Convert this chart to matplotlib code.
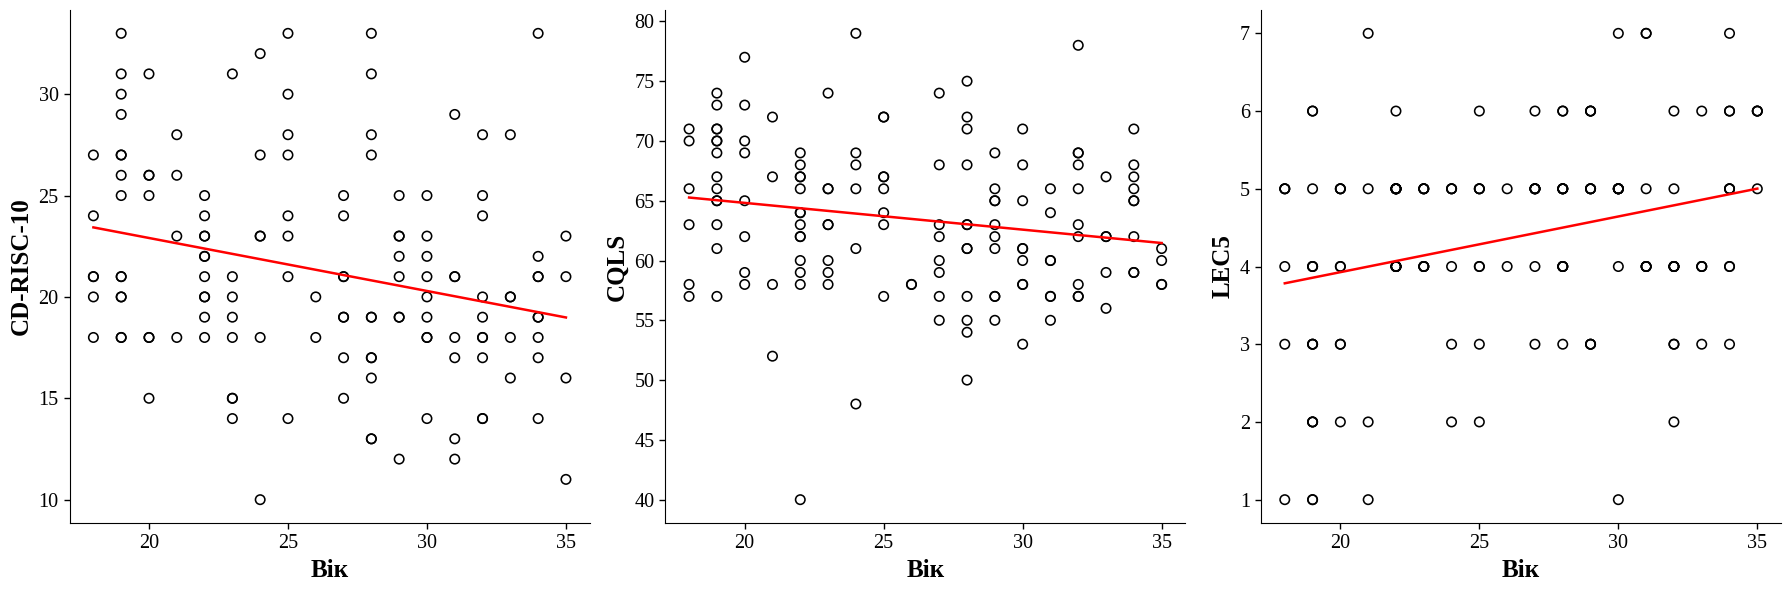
import numpy as np
import matplotlib
matplotlib.use("Agg")
import matplotlib.pyplot as plt

plt.rcParams['font.family'] = ['Liberation Serif', 'DejaVu Serif']

# CD-RISC-10 vs age
age_cd = [18, 18, 18, 18, 18, 18,
          19, 19, 19, 19, 19, 19, 19, 19, 19, 19, 19, 19, 19, 19,
          20, 20, 20, 20, 20, 20, 20,
          21, 21, 21, 21,
          22, 22, 22, 22, 22, 22, 22, 22, 22, 22, 22,
          23, 23, 23, 23, 23, 23, 23, 23,
          24, 24, 24, 24, 24, 24,
          25, 25, 25, 25, 25, 25, 25, 25,
          26, 26,
          27, 27, 27, 27, 27, 27, 27, 27,
          28, 28, 28, 28, 28, 28, 28, 28, 28, 28, 28,
          29, 29, 29, 29, 29, 29, 29, 29,
          30, 30, 30, 30, 30, 30, 30, 30, 30,
          31, 31, 31, 31, 31, 31, 31,
          32, 32, 32, 32, 32, 32, 32, 32, 32, 32,
          33, 33, 33, 33, 33,
          34, 34, 34, 34, 34, 34, 34, 34, 34,
          35, 35, 35, 35]
cd_risc = [27, 24, 21, 21, 20, 18,
           33, 31, 30, 29, 27, 27, 26, 25, 21, 21, 20, 20, 18, 18,
           31, 26, 26, 25, 18, 18, 15,
           28, 26, 23, 18,
           25, 24, 23, 23, 22, 22, 21, 20, 20, 19, 18,
           31, 21, 20, 19, 18, 15, 15, 14,
           32, 27, 23, 23, 18, 10,
           33, 30, 28, 27, 24, 23, 21, 14,
           20, 18,
           25, 24, 21, 21, 19, 19, 17, 15,
           33, 31, 28, 27, 19, 19, 17, 17, 16, 13, 13,
           25, 23, 23, 22, 21, 19, 19, 12,
           25, 23, 22, 21, 20, 19, 18, 18, 14,
           29, 21, 21, 18, 17, 13, 12,
           28, 25, 24, 20, 19, 18, 18, 17, 14, 14,
           28, 20, 20, 18, 16,
           33, 22, 21, 21, 19, 19, 18, 17, 14,
           23, 21, 16, 11]

# CQLS and LEC5 vs age
age = [18, 18, 18, 18, 18, 18,
       19, 19, 19, 19, 19, 19, 19, 19, 19, 19, 19, 19, 19, 19,
       20, 20, 20, 20, 20, 20, 20, 20,
       21, 21, 21, 21,
       22, 22, 22, 22, 22, 22, 22, 22, 22, 22, 22, 22, 22, 22,
       23, 23, 23, 23, 23, 23, 23, 23,
       24, 24, 24, 24, 24, 24,
       25, 25, 25, 25, 25, 25, 25, 25,
       26, 26,
       27, 27, 27, 27, 27, 27, 27, 27,
       28, 28, 28, 28, 28, 28, 28, 28, 28, 28, 28, 28,
       29, 29, 29, 29, 29, 29, 29, 29, 29, 29,
       30, 30, 30, 30, 30, 30, 30, 30, 30,
       31, 31, 31, 31, 31, 31, 31,
       32, 32, 32, 32, 32, 32, 32, 32, 32, 32,
       33, 33, 33, 33, 33,
       34, 34, 34, 34, 34, 34, 34, 34, 34,
       35, 35, 35, 35]
cqls = [71, 70, 66, 63, 58, 57,
        74, 73, 71, 71, 70, 70, 69, 67, 66, 65, 65, 63, 61, 57,
        77, 73, 70, 69, 65, 62, 59, 58,
        72, 67, 58, 52,
        69, 68, 67, 67, 66, 64, 64, 63, 62, 62, 60, 59, 58, 40,
        74, 66, 66, 63, 63, 60, 59, 58,
        79, 69, 68, 66, 61, 48,
        72, 72, 67, 67, 66, 64, 63, 57,
        58, 58,
        74, 68, 63, 62, 60, 59, 57, 55,
        75, 72, 71, 68, 63, 63, 61, 61, 57, 55, 54, 50,
        69, 66, 65, 65, 63, 62, 61, 57, 57, 55,
        71, 68, 65, 61, 61, 60, 58, 58, 53,
        66, 64, 60, 60, 57, 57, 55,
        78, 69, 69, 68, 66, 63, 62, 58, 57, 57,
        67, 62, 62, 59, 56,
        71, 68, 67, 66, 65, 65, 62, 59, 59,
        61, 60, 58, 58]
lec5 = [5, 5, 5, 4, 3, 1,
        6, 6, 5, 4, 4, 4, 3, 3, 3, 2, 2, 2, 1, 1,
        5, 5, 5, 4, 4, 3, 3, 2,
        7, 5, 2, 1,
        6, 5, 5, 5, 5, 5, 5, 5, 4, 4, 4, 4, 4, 4,
        5, 5, 5, 5, 4, 4, 4, 4,
        5, 5, 5, 4, 3, 2,
        6, 5, 5, 5, 4, 4, 3, 2,
        5, 4,
        6, 5, 5, 5, 5, 5, 4, 3,
        6, 6, 5, 5, 5, 5, 5, 4, 4, 4, 4, 3,
        6, 6, 6, 5, 5, 5, 5, 3, 3, 3,
        7, 5, 5, 5, 5, 5, 5, 4, 1,
        7, 7, 5, 4, 4, 4, 4,
        6, 5, 4, 4, 4, 4, 4, 3, 3, 2,
        6, 4, 4, 4, 3,
        7, 6, 6, 5, 5, 5, 4, 4, 3,
        6, 6, 6, 5]

panels = [(age_cd, cd_risc, "CD-RISC-10"), (age, cqls, "CQLS"), (age, lec5, "LEC5")]

fig, axes = plt.subplots(1, 3, figsize=(17.89, 5.9), dpi=100)
fig.subplots_adjust(left=0.039, right=0.9955, bottom=0.1136, top=0.983, wspace=0.146)

for ax, (x, y, name) in zip(axes, panels):
    x = np.array(x)
    y = np.array(y)
    ax.scatter(x, y, s=46, facecolors='none', edgecolors='black', linewidths=1.15)
    k, b = np.polyfit(x, y, 1)
    ax.plot(x, k * x + b, color='red', linewidth=1.8)
    ax.set_xlabel("Вік", fontsize=18, fontweight='bold')
    ax.set_ylabel(name, fontsize=18, fontweight='bold')
    ax.tick_params(labelsize=14.5, length=4.5, width=1)
    ax.spines['top'].set_visible(False)
    ax.spines['right'].set_visible(False)
    ax.set_xticks([20, 25, 30, 35])

axes[1].set_yticks(range(40, 81, 5))
axes[2].set_yticks(range(1, 8))

fig.savefig("out.png", dpi=100)
